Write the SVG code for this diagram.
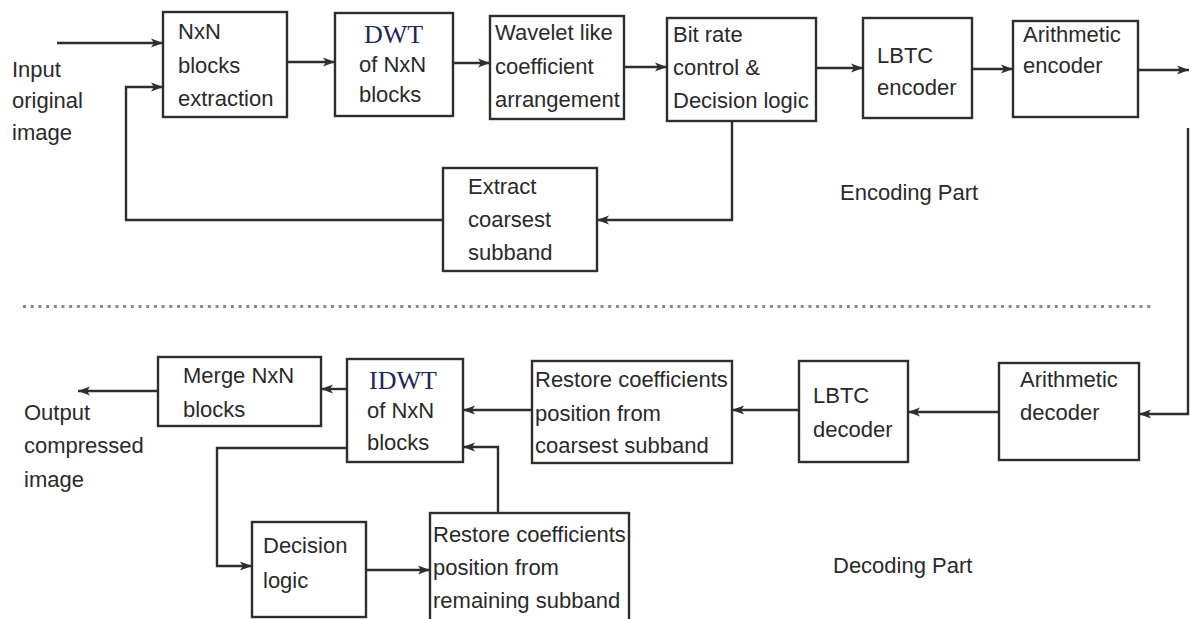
<svg xmlns="http://www.w3.org/2000/svg" width="1190" height="619" viewBox="0 0 1190 619">
<style>
.box{fill:#fff;stroke:#2e2e2e;stroke-width:2.4}
.t{font-family:"Liberation Sans",Arial,sans-serif;font-size:22px;fill:#2a2a2a}
.s{font-family:"Liberation Serif","Times New Roman",serif;font-size:26px;fill:#23265a}
.c{fill:none;stroke:#2e2e2e;stroke-width:2.4}
.a{marker-end:url(#ah)}
.dot{stroke:#8a8a8a;stroke-width:3;stroke-dasharray:3 4.7}
</style>
<defs>
<marker id="ah" viewBox="0 0 12 10" refX="12" refY="5" markerWidth="12" markerHeight="10" markerUnits="userSpaceOnUse" orient="auto">
<path d="M0,0.5 L12,5 L0,9.5 L3,5 Z" fill="#2e2e2e"/>
</marker>
</defs>
<rect width="1190" height="619" fill="#fff"/>

<g id="labels">
<text class="t" x="12" y="77">Input</text>
<text class="t" x="12" y="108">original</text>
<text class="t" x="12" y="140">image</text>
<text class="t" x="840" y="200">Encoding Part</text>
<text class="t" x="24" y="420">Output</text>
<text class="t" x="24" y="453">compressed</text>
<text class="t" x="24" y="487">image</text>
<text class="t" x="833" y="573">Decoding Part</text>
<line class="dot" x1="23" y1="306.5" x2="1153" y2="306.5"/>
</g>

<g id="connectors">
<line class="c a" x1="57" y1="43" x2="163" y2="43"/>
<path class="c a" d="M443,220 H126 V87 H163"/>
<line class="c a" x1="287" y1="62" x2="335" y2="62"/>
<line class="c a" x1="453" y1="63" x2="490" y2="63"/>
<line class="c a" x1="624" y1="67" x2="667" y2="67"/>
<line class="c a" x1="816" y1="68" x2="863" y2="68"/>
<line class="c a" x1="972" y1="69" x2="1013" y2="69"/>
<line class="c a" x1="1138" y1="70" x2="1189" y2="70"/>
<path class="c a" d="M732,121 V220 H597"/>
<path class="c a" d="M1188,128 V414 H1139"/>
<line class="c a" x1="999" y1="412" x2="908" y2="412"/>
<line class="c a" x1="799" y1="410" x2="732" y2="410"/>
<line class="c a" x1="532" y1="410" x2="463" y2="410"/>
<line class="c a" x1="347" y1="389" x2="321" y2="389"/>
<line class="c a" x1="158" y1="391" x2="78" y2="391"/>
<path class="c a" d="M347,448 H217 V566 H252"/>
<line class="c a" x1="366" y1="570" x2="430" y2="570"/>
<path class="c a" d="M498,513 V447 H463"/>
</g>

<g id="n-extract">
<rect class="box" x="163" y="12" width="124" height="105"/>
<text class="t" x="178" y="39">NxN</text>
<text class="t" x="178" y="73">blocks</text>
<text class="t" x="178" y="106">extraction</text>
</g>
<g id="n-dwt">
<rect class="box" x="335" y="13" width="118" height="103"/>
<text class="s" x="364" y="43">DWT</text>
<text class="t" x="359" y="72">of NxN</text>
<text class="t" x="359" y="102">blocks</text>
</g>
<g id="n-wavelet">
<rect class="box" x="490" y="16" width="134" height="103"/>
<text class="t" x="495" y="40">Wavelet like</text>
<text class="t" x="495" y="74">coefficient</text>
<text class="t" x="495" y="107">arrangement</text>
</g>
<g id="n-bitrate">
<rect class="box" x="667" y="18" width="149" height="103"/>
<text class="t" x="673" y="42">Bit rate</text>
<text class="t" x="673" y="75">control &amp;</text>
<text class="t" x="673" y="108">Decision logic</text>
</g>
<g id="n-lbtc-enc">
<rect class="box" x="863" y="18" width="109" height="100"/>
<text class="t" x="877" y="63">LBTC</text>
<text class="t" x="877" y="95">encoder</text>
</g>
<g id="n-arith-enc">
<rect class="box" x="1013" y="21" width="125" height="96"/>
<text class="t" x="1023" y="42">Arithmetic</text>
<text class="t" x="1023" y="73">encoder</text>
</g>
<g id="n-coarsest">
<rect class="box" x="443" y="168" width="154" height="103"/>
<text class="t" x="468" y="194">Extract</text>
<text class="t" x="468" y="227">coarsest</text>
<text class="t" x="468" y="260">subband</text>
</g>
<g id="n-arith-dec">
<rect class="box" x="999" y="363" width="140" height="97"/>
<text class="t" x="1020" y="387">Arithmetic</text>
<text class="t" x="1020" y="420">decoder</text>
</g>
<g id="n-lbtc-dec">
<rect class="box" x="799" y="361" width="109" height="101"/>
<text class="t" x="813" y="403">LBTC</text>
<text class="t" x="813" y="437">decoder</text>
</g>
<g id="n-restore-coarsest">
<rect class="box" x="532" y="361" width="200" height="102"/>
<text class="t" x="535" y="387">Restore coefficients</text>
<text class="t" x="535" y="421">position from</text>
<text class="t" x="535" y="453">coarsest subband</text>
</g>
<g id="n-idwt">
<rect class="box" x="347" y="359" width="116" height="103"/>
<text class="s" x="369" y="389">IDWT</text>
<text class="t" x="367" y="418">of NxN</text>
<text class="t" x="367" y="450">blocks</text>
</g>
<g id="n-merge">
<rect class="box" x="158" y="357" width="163" height="69"/>
<text class="t" x="183" y="383">Merge NxN</text>
<text class="t" x="183" y="417">blocks</text>
</g>
<g id="n-decision">
<rect class="box" x="252" y="522" width="114" height="95"/>
<text class="t" x="263" y="553">Decision</text>
<text class="t" x="263" y="588">logic</text>
</g>
<g id="n-restore-remaining">
<rect class="box" x="430" y="513" width="199" height="110"/>
<text class="t" x="433" y="542">Restore coefficients</text>
<text class="t" x="433" y="575">position from</text>
<text class="t" x="433" y="608">remaining subband</text>
</g>
</svg>
